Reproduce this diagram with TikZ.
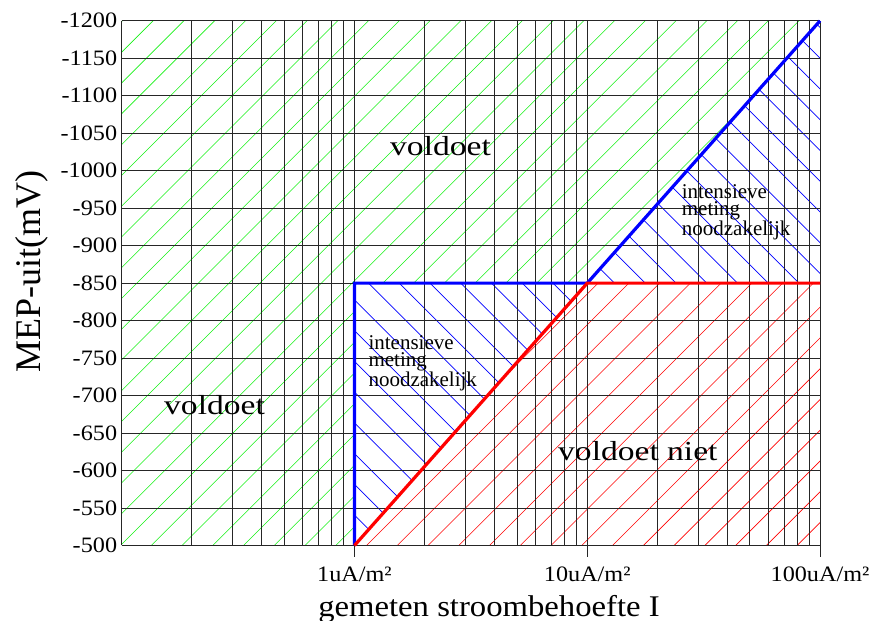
\documentclass[tikz,border=0pt]{standalone}
\usepackage{fontspec}
\setmainfont{Liberation Serif}
\newfontfamily\fTick[FakeStretch=1.1]{Liberation Serif}
\newfontfamily\fBig[FakeStretch=1.22]{Liberation Serif}
\newfontfamily\fXlab[FakeStretch=1.09]{Liberation Serif}
\newfontfamily\fSmall{Liberation Serif}
\definecolor{hgreen}{RGB}{20,240,20}
\definecolor{hblue}{RGB}{0,0,255}
\definecolor{hred}{RGB}{255,0,0}
\tikzset{
  gridline/.style={draw=black!85, line width=0.9pt},
  ghatch/.style={draw=hgreen, line width=0.7pt},
  bhatch/.style={draw=hblue, line width=0.7pt},
  rhatch/.style={draw=hred, line width=0.7pt},
  bthick/.style={draw=hblue, line width=3.2pt},
  rthick/.style={draw=hred, line width=3.2pt},
  ticklab/.style={inner sep=0pt, font=\fTick\fontsize{22}{22}\selectfont},
  biglab/.style={inner sep=0pt, anchor=base west, font=\fBig\fontsize{27.5}{27.5}\selectfont},
  smalllab/.style={inner sep=0pt, anchor=base west, align=left, font=\fSmall\fontsize{21}{17.5}\selectfont},
}
\begin{document}
\begin{tikzpicture}[x=1pt,y=1pt]
\useasboundingbox (0,0) rectangle (873,621);
\begin{scope}[shift={(121.7,75.5)}, x=232.77pt, y=0.74957pt]
  \coordinate (BL) at (0,0);
  \coordinate (A) at (1,0);
  \coordinate (B) at (1,350);
  \coordinate (C) at (2,350);
  \coordinate (D) at (3,700);
  \coordinate (E) at (3,350);
  \coordinate (F) at (3,0);
  \coordinate (G) at (2,0);
  \coordinate (TL) at (0,700);
\end{scope}
% green hatch
\begin{scope}
  \clip (BL) -- (A) -- (B) -- (C) -- (D) -- (TL) -- cycle;
  \foreach \k in {-2,...,42} {
    \draw[ghatch] ({-447+\k*30.75+60},60) -- ({-447+\k*30.75+610},610);
  }
\end{scope}
% red hatch
\begin{scope}
  \clip (A) -- (C) -- (E) -- (F) -- cycle;
  \foreach \k in {-2,...,42} {
    \draw[rhatch] ({-447+\k*30.75+60},60) -- ({-447+\k*30.75+610},610);
  }
\end{scope}
% blue hatch
\begin{scope}
  \clip (A) -- (B) -- (C) -- cycle (C) -- (D) -- (E) -- cycle;
  \foreach \k in {-20,...,26} {
    \draw[bhatch] ({706.3+\k*30.75-60},60) -- ({706.3+\k*30.75-610},610);
  }
\end{scope}
% grid
\begin{scope}[shift={(121.7,75.5)}, x=232.77pt, y=0.74957pt]
  \foreach \m in {0,50,...,700} {
    \draw[gridline] (0,\m) -- (3,\m);
  }
  \foreach \d in {0,1,2} {
    \foreach \n in {1,...,9} {
      \draw[gridline] ({\d+log10(\n)},0) -- ({\d+log10(\n)},700);
    }
  }
  \draw[gridline] (3,0) -- (3,700);
  \foreach \m/\lab in {0/-500,50/-550,100/-600,150/-650,200/-700,250/-750,300/-800,350/-850,400/-900,450/-950,500/-1000,550/-1050,600/-1100,650/-1150,700/-1200} {
    \node[ticklab, anchor=east, xshift=-4.4pt] (yl\m) at (0,\m) {\lab};
  }
\end{scope}
% ticks
\draw[gridline] (A) -- ++(0,-12);
\draw[gridline] (G) -- ++(0,-12);
\draw[gridline] (F) -- ++(0,-12);
\node[ticklab, anchor=base] (x1) at ([yshift=-36.5pt]A) {1uA/m²};
\node[ticklab, anchor=base] (x10) at ([yshift=-36.5pt]G) {10uA/m²};
\node[ticklab, anchor=base] (x100) at ([yshift=-36.5pt]F) {100uA/m²};
% thick boundary lines
\draw[bthick] (A) -- (B) -- (C) -- (D);
\draw[rthick] (A) -- (C) -- (E);
% labels
\node[biglab] (v1) at (390,465) {voldoet};
\node[biglab] (v2) at (164,206) {voldoet};
\node[biglab] (v3) at (558,160) {voldoet niet};
\node[smalllab] (i1) at (368.3,234.3) {intensieve\\meting\\noodzakelijk};
\node[smalllab] (i2) at (681.7,385) {intensieve\\meting\\noodzakelijk};
\node[inner sep=0pt, anchor=base, font=\fXlab\fontsize{30}{30}\selectfont] (xt) at (489,4) {gemeten stroombehoefte I};
\node[inner sep=0pt, anchor=base, rotate=90, font=\fSmall\fontsize{36}{36}\selectfont] (yt) at (40,349) {MEP-uit(mV)};
\end{tikzpicture}
\end{document}
